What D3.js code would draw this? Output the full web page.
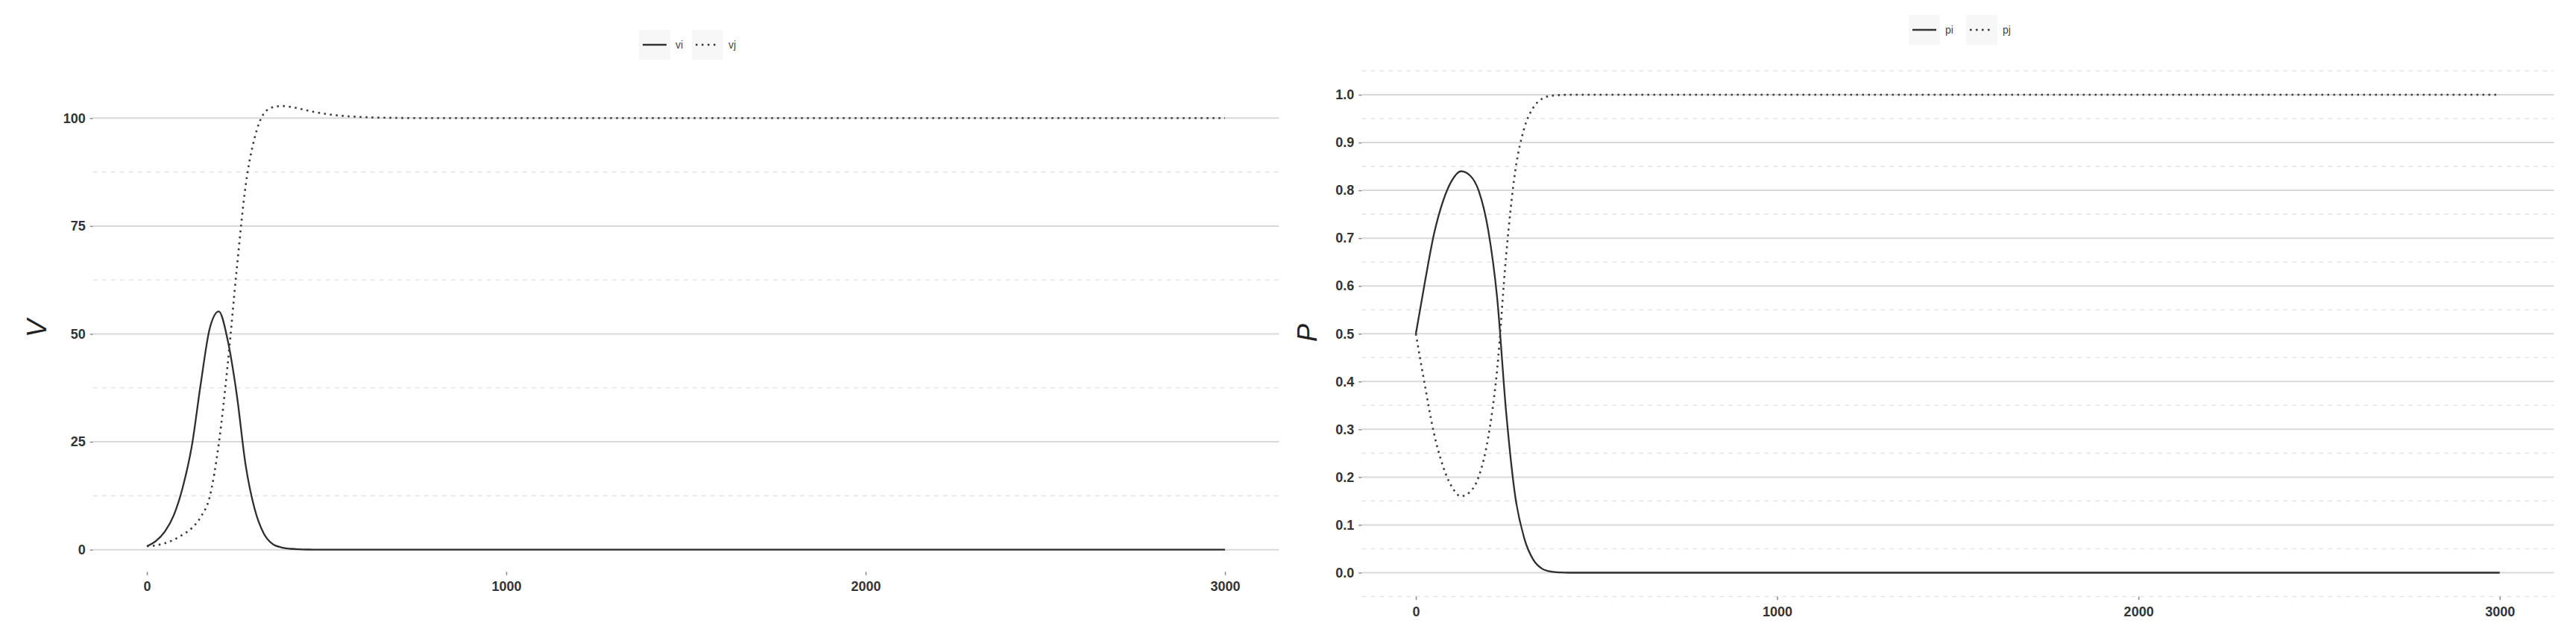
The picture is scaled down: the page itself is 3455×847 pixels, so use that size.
<!DOCTYPE html>
<html>
<head>
<meta charset="utf-8">
<script src="https://cdn.jsdelivr.net/npm/d3@7/dist/d3.min.js"></script>
<style>
  html, body { margin: 0; padding: 0; background: #ffffff; }
  svg { display: block; }
</style>
</head>
<body>
<svg id="chart" width="3455" height="847"></svg>
<script>
// ---------------- data ----------------
const time = [0,25,50,75,100,125,150,175,200,225,250,275,300,325,350,375,400,425,450,475,500,600,700,800,1000,1500,2000,2500,3000];

const vi = [0.8,2.0,4.2,8.0,14.5,24.0,38.5,51.3,55.2,48.5,36.0,19.5,9.4,3.8,1.3,0.5,0.2,0.08,0.03,0.01,0,0,0,0,0,0,0,0,0];
const vj = [0.8,1.0,1.5,2.3,3.5,5.0,7.6,12.3,24.5,43.0,65.0,84.5,95.5,101.0,102.5,102.8,102.6,102.2,101.7,101.3,100.95,100.25,100.05,100,100,100,100,100,100];

const pi = [0.5,0.608,0.708,0.777,0.821,0.840,0.831,0.797,0.718,0.575,0.335,0.160,0.072,0.027,0.008,0.002,0.0005,0,0,0,0,0,0,0,0,0,0,0,0];
const pj = [0.5,0.392,0.292,0.223,0.179,0.160,0.169,0.203,0.282,0.425,0.665,0.840,0.930,0.973,0.992,0.998,0.9995,1,1,1,1,1,1,1,1,1,1,1,1];

const xTicks = [0, 1000, 2000, 3000];
const vTicks = [0, 25, 50, 75, 100];
const vMinor = [12.5, 37.5, 62.5, 87.5];
const pTicks = [0,0.1,0.2,0.3,0.4,0.5,0.6,0.7,0.8,0.9,1.0];
const pMinor = [-0.05,0.05,0.15,0.25,0.35,0.45,0.55,0.65,0.75,0.85,0.95,1.05];

const leftLegend = ["vi", "vj"];
const rightLegend = ["pi", "pj"];

// ---------------- drawing ----------------
const svg = d3.select("#chart");
svg.append("rect").attr("width", 3455).attr("height", 847).attr("fill", "#ffffff");

const FONT = "'Liberation Sans', Arial, Helvetica, sans-serif";

function expand(vals) {
  const lo = d3.min(vals), hi = d3.max(vals);
  const pad = (hi - lo) * 0.05;
  return [lo - pad, hi + pad];
}

function panel(cfg) {
  const g = svg.append("g");
  const x = d3.scaleLinear().domain(expand(time)).range([cfg.left, cfg.right]);
  const y = d3.scaleLinear().domain(expand(cfg.s1.concat(cfg.s2).concat([cfg.floor]))).range([cfg.bottom, cfg.top]);

  // minor gridlines
  g.append("g").selectAll("line").data(cfg.minor.filter(v => v >= y.domain()[0] - 1e-9 && v <= y.domain()[1] + 1e-9))
    .join("line")
    .attr("x1", cfg.left).attr("x2", cfg.right)
    .attr("y1", d => y(d)).attr("y2", d => y(d))
    .attr("stroke", "#e6e6e6").attr("stroke-width", 1.6)
    .attr("stroke-dasharray", "6,6");

  // major gridlines
  g.append("g").selectAll("line").data(cfg.ticks)
    .join("line")
    .attr("x1", cfg.left).attr("x2", cfg.right)
    .attr("y1", d => y(d)).attr("y2", d => y(d))
    .attr("stroke", "#d8d8d8").attr("stroke-width", 2);

  // series
  const line = d3.line().x((d, i) => x(time[i])).y(d => y(d)).curve(d3.curveMonotoneX);
  g.append("path").datum(cfg.s1).attr("d", line)
    .attr("fill", "none").attr("stroke", "#2e2e2e").attr("stroke-width", 2.3);
  g.append("path").datum(cfg.s2).attr("d", line)
    .attr("fill", "none").attr("stroke", "#3a3a3a").attr("stroke-width", 2.6)
    .attr("stroke-dasharray", "2.5,5.5");

  // axes
  const ax = g.append("g").attr("transform", `translate(0,${cfg.bottom})`)
    .call(d3.axisBottom(x).tickValues(xTicks).tickSize(4.5).tickPadding(cfg.xPad).tickFormat(d3.format("d")));
  const ay = g.append("g").attr("transform", `translate(${cfg.left},0)`)
    .call(d3.axisLeft(y).tickValues(cfg.ticks).tickSize(4).tickPadding(6).tickFormat(cfg.fmt));
  [ax, ay].forEach(a => {
    a.select(".domain").remove();
    a.selectAll(".tick line").attr("stroke", "#8a8a8a").attr("stroke-width", 1.5);
    a.selectAll(".tick text").attr("fill", "#333333").attr("font-family", FONT)
      .attr("font-size", 18).attr("font-weight", "bold");
  });

  // axis title
  g.append("text")
    .attr("transform", `translate(${cfg.titleX},${cfg.titleY}) rotate(-90)`)
    .attr("text-anchor", "middle").attr("dy", "0.36em")
    .attr("font-family", FONT).attr("font-size", 36).attr("font-style", "italic")
    .attr("fill", "#222222").text(cfg.title);

  // legend
  const lg = g.append("g");
  const items = [
    {name: cfg.legend[0], x: cfg.legX[0], dash: null},
    {name: cfg.legend[1], x: cfg.legX[1], dash: "2.5,5.5"}
  ];
  items.forEach(it => {
    lg.append("rect").attr("x", it.x - 5).attr("y", cfg.legY - 20).attr("width", 42).attr("height", 40)
      .attr("fill", "#f7f7f7");
    lg.append("line").attr("x1", it.x).attr("x2", it.x + 32)
      .attr("y1", cfg.legY).attr("y2", cfg.legY)
      .attr("stroke", "#333333").attr("stroke-width", 2.5)
      .attr("stroke-dasharray", it.dash);
    lg.append("text").attr("x", it.x + 44).attr("y", cfg.legY).attr("dy", "0.35em")
      .attr("font-family", FONT).attr("font-size", 14).attr("fill", "#444444")
      .text(it.name);
  });
}

panel({
  left: 124.7, right: 1715.3, top: 112.4, bottom: 766.4,
  s1: vi, s2: vj, floor: 0, ticks: vTicks, minor: vMinor,
  fmt: d3.format("d"), xPad: 8.5,
  title: "V", titleX: 49, titleY: 440,
  legend: leftLegend, legX: [862, 933], legY: 60
});

panel({
  left: 1826.3, right: 3425.4, top: 95.0, bottom: 799.5,
  s1: pi, s2: pj, floor: 0, ticks: pTicks, minor: pMinor,
  fmt: d3.format(".1f"), xPad: 9,
  title: "P", titleX: 1753, titleY: 446,
  legend: rightLegend, legX: [2565, 2642], legY: 40
});
</script>
</body>
</html>
